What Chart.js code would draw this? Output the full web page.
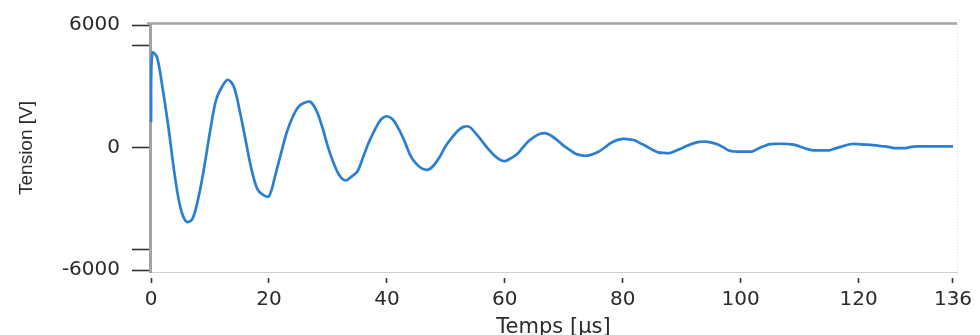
<!DOCTYPE html>
<html>
<head>
<meta charset="utf-8">
<script src="https://cdn.jsdelivr.net/npm/chart.js@4/dist/chart.umd.min.js"></script>
<style>
html,body{margin:0;padding:0;background:#fff;}
#wrap{width:980px;height:335px;position:relative;}
</style>
</head>
<body>
<div id="wrap"><canvas id="c"></canvas></div>
<script>
const times = [0, 0.2, 1, 2, 3, 4, 5, 6, 7, 8, 9, 10, 11, 12, 13, 14, 15, 16, 17, 18, 19, 20,
  21, 22, 23, 24, 25, 26, 27, 28, 29, 30, 31, 32, 33, 34, 35, 36, 37, 38, 39, 40,
  41, 42, 43, 44, 45, 46, 47, 48, 49, 50, 51, 52, 53, 54, 55, 56, 57, 58, 59, 60,
  61, 62, 63, 64, 65, 66, 67, 68, 69, 70, 71, 72, 73, 74, 75, 76, 77, 78, 79, 80,
  81, 82, 83, 84, 85, 86, 87, 88, 89, 90, 91, 92, 93, 94, 95, 96, 97, 98, 99, 100,
  101, 102, 103, 104, 105, 106, 107, 108, 109, 110, 111, 112, 113, 114, 115, 116, 117, 118, 119, 120,
  121, 122, 123, 124, 125, 126, 127, 128, 129, 130, 131, 132, 133, 134, 135, 136];

const tension = [1250, 4650, 4450, 2850, 900, -1300, -2950, -3630, -3500, -2500, -1000, 770,
  2300, 2960, 3330, 3020, 1860, 430, -1000, -2010, -2320, -2380,
  -1440, -330, 730, 1490, 2000, 2200, 2250, 1850, 1050, 40,
  -780, -1380, -1610, -1420, -1170, -440, 300, 900, 1380, 1540,
  1380, 920, 310, -390, -800, -1030, -1080, -850, -430, 90,
  480, 820, 1020, 1020, 720, 370, 0, -320, -560, -660,
  -520, -340, -10, 310, 530, 680, 700, 560, 340, 90,
  -110, -300, -380, -390, -310, -180, 20, 230, 370, 430,
  410, 360, 210, 70, -100, -230, -260, -260, -150, -30,
  100, 210, 280, 300, 250, 170, 30, -140, -190, -190,
  -190, -180, -40, 80, 170, 190, 190, 180, 150, 60,
  -40, -120, -130, -130, -130, -40, 40, 130, 180, 170,
  150, 140, 110, 70, 40, -20, -20, -20, 40, 60,
  60, 60, 60, 60, 60, 60];

const xTicks = [0, 20, 40, 60, 80, 100, 120, 136];
const yTicks = [-6000, -5000, 0, 5000, 6000];
const yLabelled = [-6000, 0, 6000];

const xTitle = 'Temps [µs]';
const yTitle = 'Tension [V]';

const points = times.map((t, i) => ({x: t, y: tension[i]}));

const frame = {
  id: 'frame',
  afterDatasetsDraw(chart) {
    const {ctx, chartArea: a} = chart;
    ctx.save();
    ctx.strokeStyle = '#a3a3a3';
    ctx.lineWidth = 2.5;
    ctx.beginPath();
    ctx.moveTo(a.left - 3, a.top - 0.5);
    ctx.lineTo(a.right, a.top - 0.5);
    ctx.stroke();
    ctx.strokeStyle = '#dcdcdc';
    ctx.lineWidth = 1;
    ctx.setLineDash([1, 2]);
    ctx.beginPath();
    ctx.moveTo(a.right + 0.5, a.top);
    ctx.lineTo(a.right + 0.5, a.bottom);
    ctx.stroke();
    ctx.restore();
  }
};

new Chart(document.getElementById('c'), {
  type: 'line',
  data: {
    datasets: [{
      data: points,
      borderColor: '#2b7fd1',
      borderWidth: 2.7,
      pointRadius: 0,
      fill: false,
      tension: 0.35
    }]
  },
  options: {
    responsive: true,
    maintainAspectRatio: false,
    animation: false,
    events: [],
    layout: {padding: {top: 22, right: 23, left: 0, bottom: 0}},
    plugins: {legend: {display: false}, tooltip: {enabled: false}},
    scales: {
      x: {
        type: 'linear',
        min: -0.17,
        max: 136.68,
        afterBuildTicks: s => { s.ticks = xTicks.map(v => ({value: v})); },
        afterFit: s => { s.height = 63; },
        grid: {
          drawOnChartArea: false,
          drawTicks: true,
          tickLength: 11,
          tickColor: '#333',
          tickWidth: 1.6,
          tickBorderDash: [0, 5, 6, 60]
        },
        border: {display: true, color: '#d0d0d0', width: 1, dash: [1, 2]},
        ticks: {
          autoSkip: false,
          maxRotation: 0,
          padding: 5,
          color: '#2a2a2a',
          font: {family: 'DejaVu Sans', size: 20},
          callback: v => String(v)
        },
        title: {
          display: true,
          text: xTitle,
          color: '#2a2a2a',
          font: {family: 'DejaVu Sans', size: 21, lineHeight: 1},
          padding: {top: 0, bottom: -3}
        }
      },
      y: {
        type: 'linear',
        min: -6097,
        max: 6063,
        afterBuildTicks: s => { s.ticks = yTicks.map(v => ({value: v})); },
        afterFit: s => { s.width = 150; },
        grid: {
          drawOnChartArea: false,
          drawTicks: true,
          tickLength: 18,
          tickColor: '#333',
          tickWidth: 1.6
        },
        border: {display: true, color: '#a3a3a3', width: 3},
        ticks: {
          padding: 12,
          color: '#2a2a2a',
          font: {family: 'DejaVu Sans', size: 20},
          callback: v => (yLabelled.includes(v) ? String(v) : '')
        },
        title: {
          display: true,
          text: yTitle,
          color: '#2a2a2a',
          font: {family: 'Liberation Sans', size: 19},
          padding: {top: 15, bottom: 0}
        }
      }
    }
  },
  plugins: [frame]
});
</script>
</body>
</html>
